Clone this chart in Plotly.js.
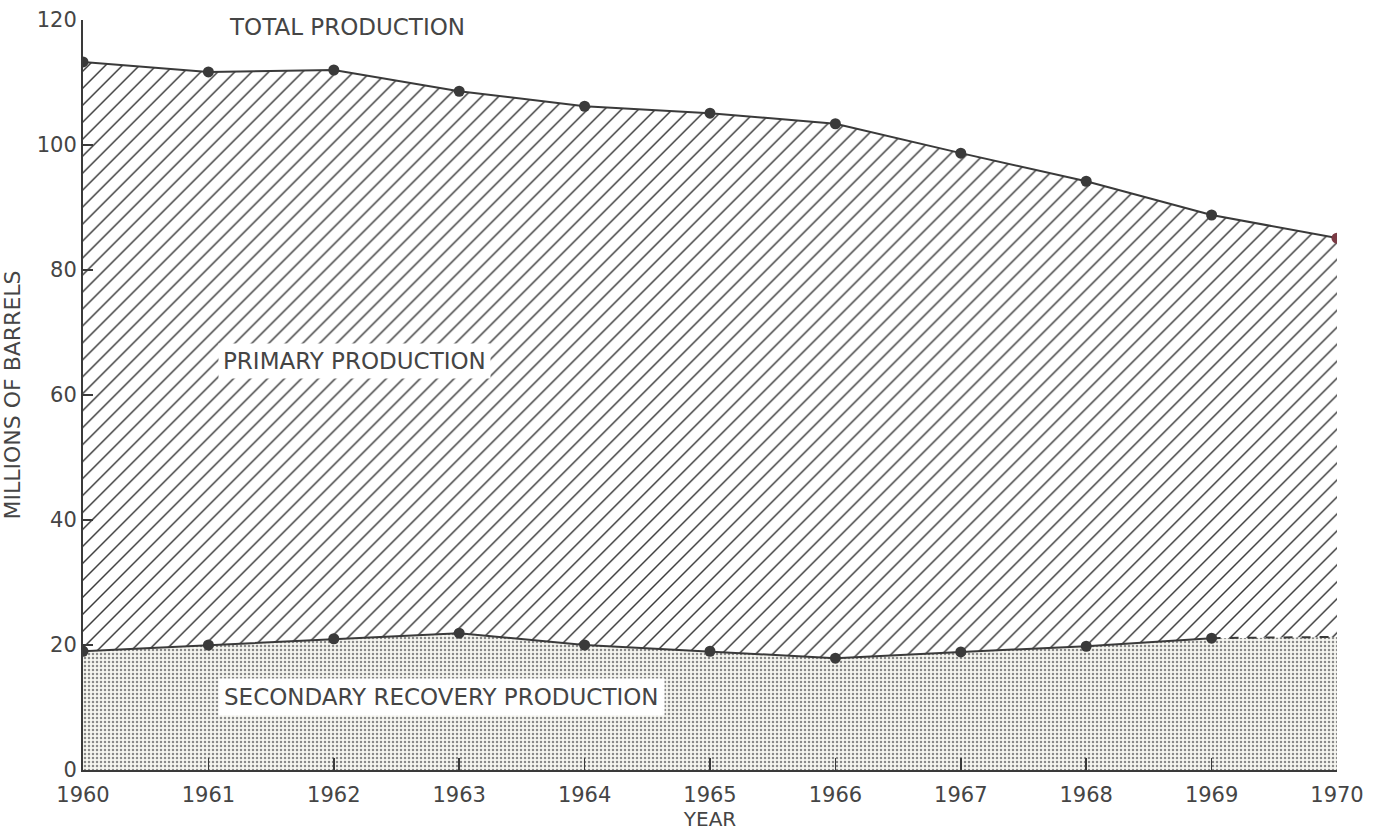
<!DOCTYPE html>
<html><head><meta charset="utf-8">
<script src="https://cdn.plot.ly/plotly-3.0.1.min.js"></script>
<style>html,body{margin:0;padding:0;background:#fff;}#chart{width:1379px;height:831px;}</style>
</head><body><div id="chart"></div>
<script>
const years = [1960,1961,1962,1963,1964,1965,1966,1967,1968,1969,1970];
const totalProduction = [113.3,111.7,112.0,108.6,106.2,105.1,103.4,98.7,94.2,88.8,85.1];
const secondaryProduction = [19.0,20.0,21.0,21.9,20.0,19.0,17.9,18.9,19.8,21.1,21.3];
const yTicks = [0,20,40,60,80,100,120];
const labels = ["TOTAL PRODUCTION","PRIMARY PRODUCTION","SECONDARY RECOVERY PRODUCTION"];

const ink = '#3a3a3a';
const txt = '#454545';
const fam = '"DejaVu Sans", sans-serif';

const traces = [
  {x:years, y:secondaryProduction, mode:'lines', line:{width:0}, fill:'tozeroy',
   fillpattern:{shape:'.', fgcolor:'#8a8a8a', bgcolor:'#f6f6f1', size:4, solidity:0.3},
   fillcolor:'#f6f6f1', hoverinfo:'skip', showlegend:false},
  {x:years, y:totalProduction, mode:'lines+markers', fill:'tonexty',
   fillpattern:{shape:'/', fgcolor:'#3a3a3a', bgcolor:'#ffffff', size:12, solidity:0.12},
   line:{color:ink, width:2},
   marker:{size:11, color:years.map((y,i)=> i===years.length-1 ? '#7a3a44' : ink)},
   showlegend:false},
  {x:years.slice(0,10), y:secondaryProduction.slice(0,10), mode:'lines+markers',
   line:{color:ink, width:2}, marker:{size:11, color:ink}, showlegend:false},
  {x:years.slice(9), y:secondaryProduction.slice(9), mode:'lines',
   line:{color:ink, width:2, dash:'dash'}, showlegend:false}
];

const layout = {
  width:1379, height:831,
  margin:{l:83, r:42, t:20, b:61},
  paper_bgcolor:'#fff', plot_bgcolor:'#fff',
  font:{family:fam, color:txt, size:21},
  xaxis:{range:[1960,1970], tickvals:years, ticktext:years.map(String),
    ticks:'inside', ticklen:12, tickwidth:1.5, tickcolor:ink, ticklabelstandoff:5,
    showline:true, linecolor:ink, linewidth:2, showgrid:false, zeroline:false,
    tickfont:{family:fam, size:21, color:txt},
    title:{text:'YEAR', font:{family:fam, size:20, color:txt}, standoff:1}},
  yaxis:{range:[0,120], tickvals:yTicks, ticks:'inside', ticklen:10, tickwidth:1.5, tickcolor:ink,
    showline:true, linecolor:ink, linewidth:2, showgrid:false, zeroline:false,
    tickfont:{family:fam, size:21, color:txt},
    title:{text:'MILLIONS OF BARRELS', font:{family:fam, size:22, color:txt}, standoff:10}},
  annotations:[
    {x:1961.15, y:120, xref:'x', yref:'y', text:labels[0], showarrow:false, xanchor:'left', yanchor:'middle',
     yshift:-7, font:{family:fam, size:23, color:txt}},
    {x:1961.08, y:65.5, xref:'x', yref:'y', text:labels[1], showarrow:false, xanchor:'left', yanchor:'middle',
     bgcolor:'#ffffff', borderpad:4, font:{family:fam, size:23, color:txt}},
    {x:1961.08, y:11.7, xref:'x', yref:'y', text:labels[2], showarrow:false, xanchor:'left', yanchor:'middle',
     bgcolor:'#ffffff', borderpad:5, font:{family:fam, size:23, color:txt}}
  ]
};
Plotly.newPlot('chart', traces, layout, {displayModeBar:false, staticPlot:true});
</script></body></html>
